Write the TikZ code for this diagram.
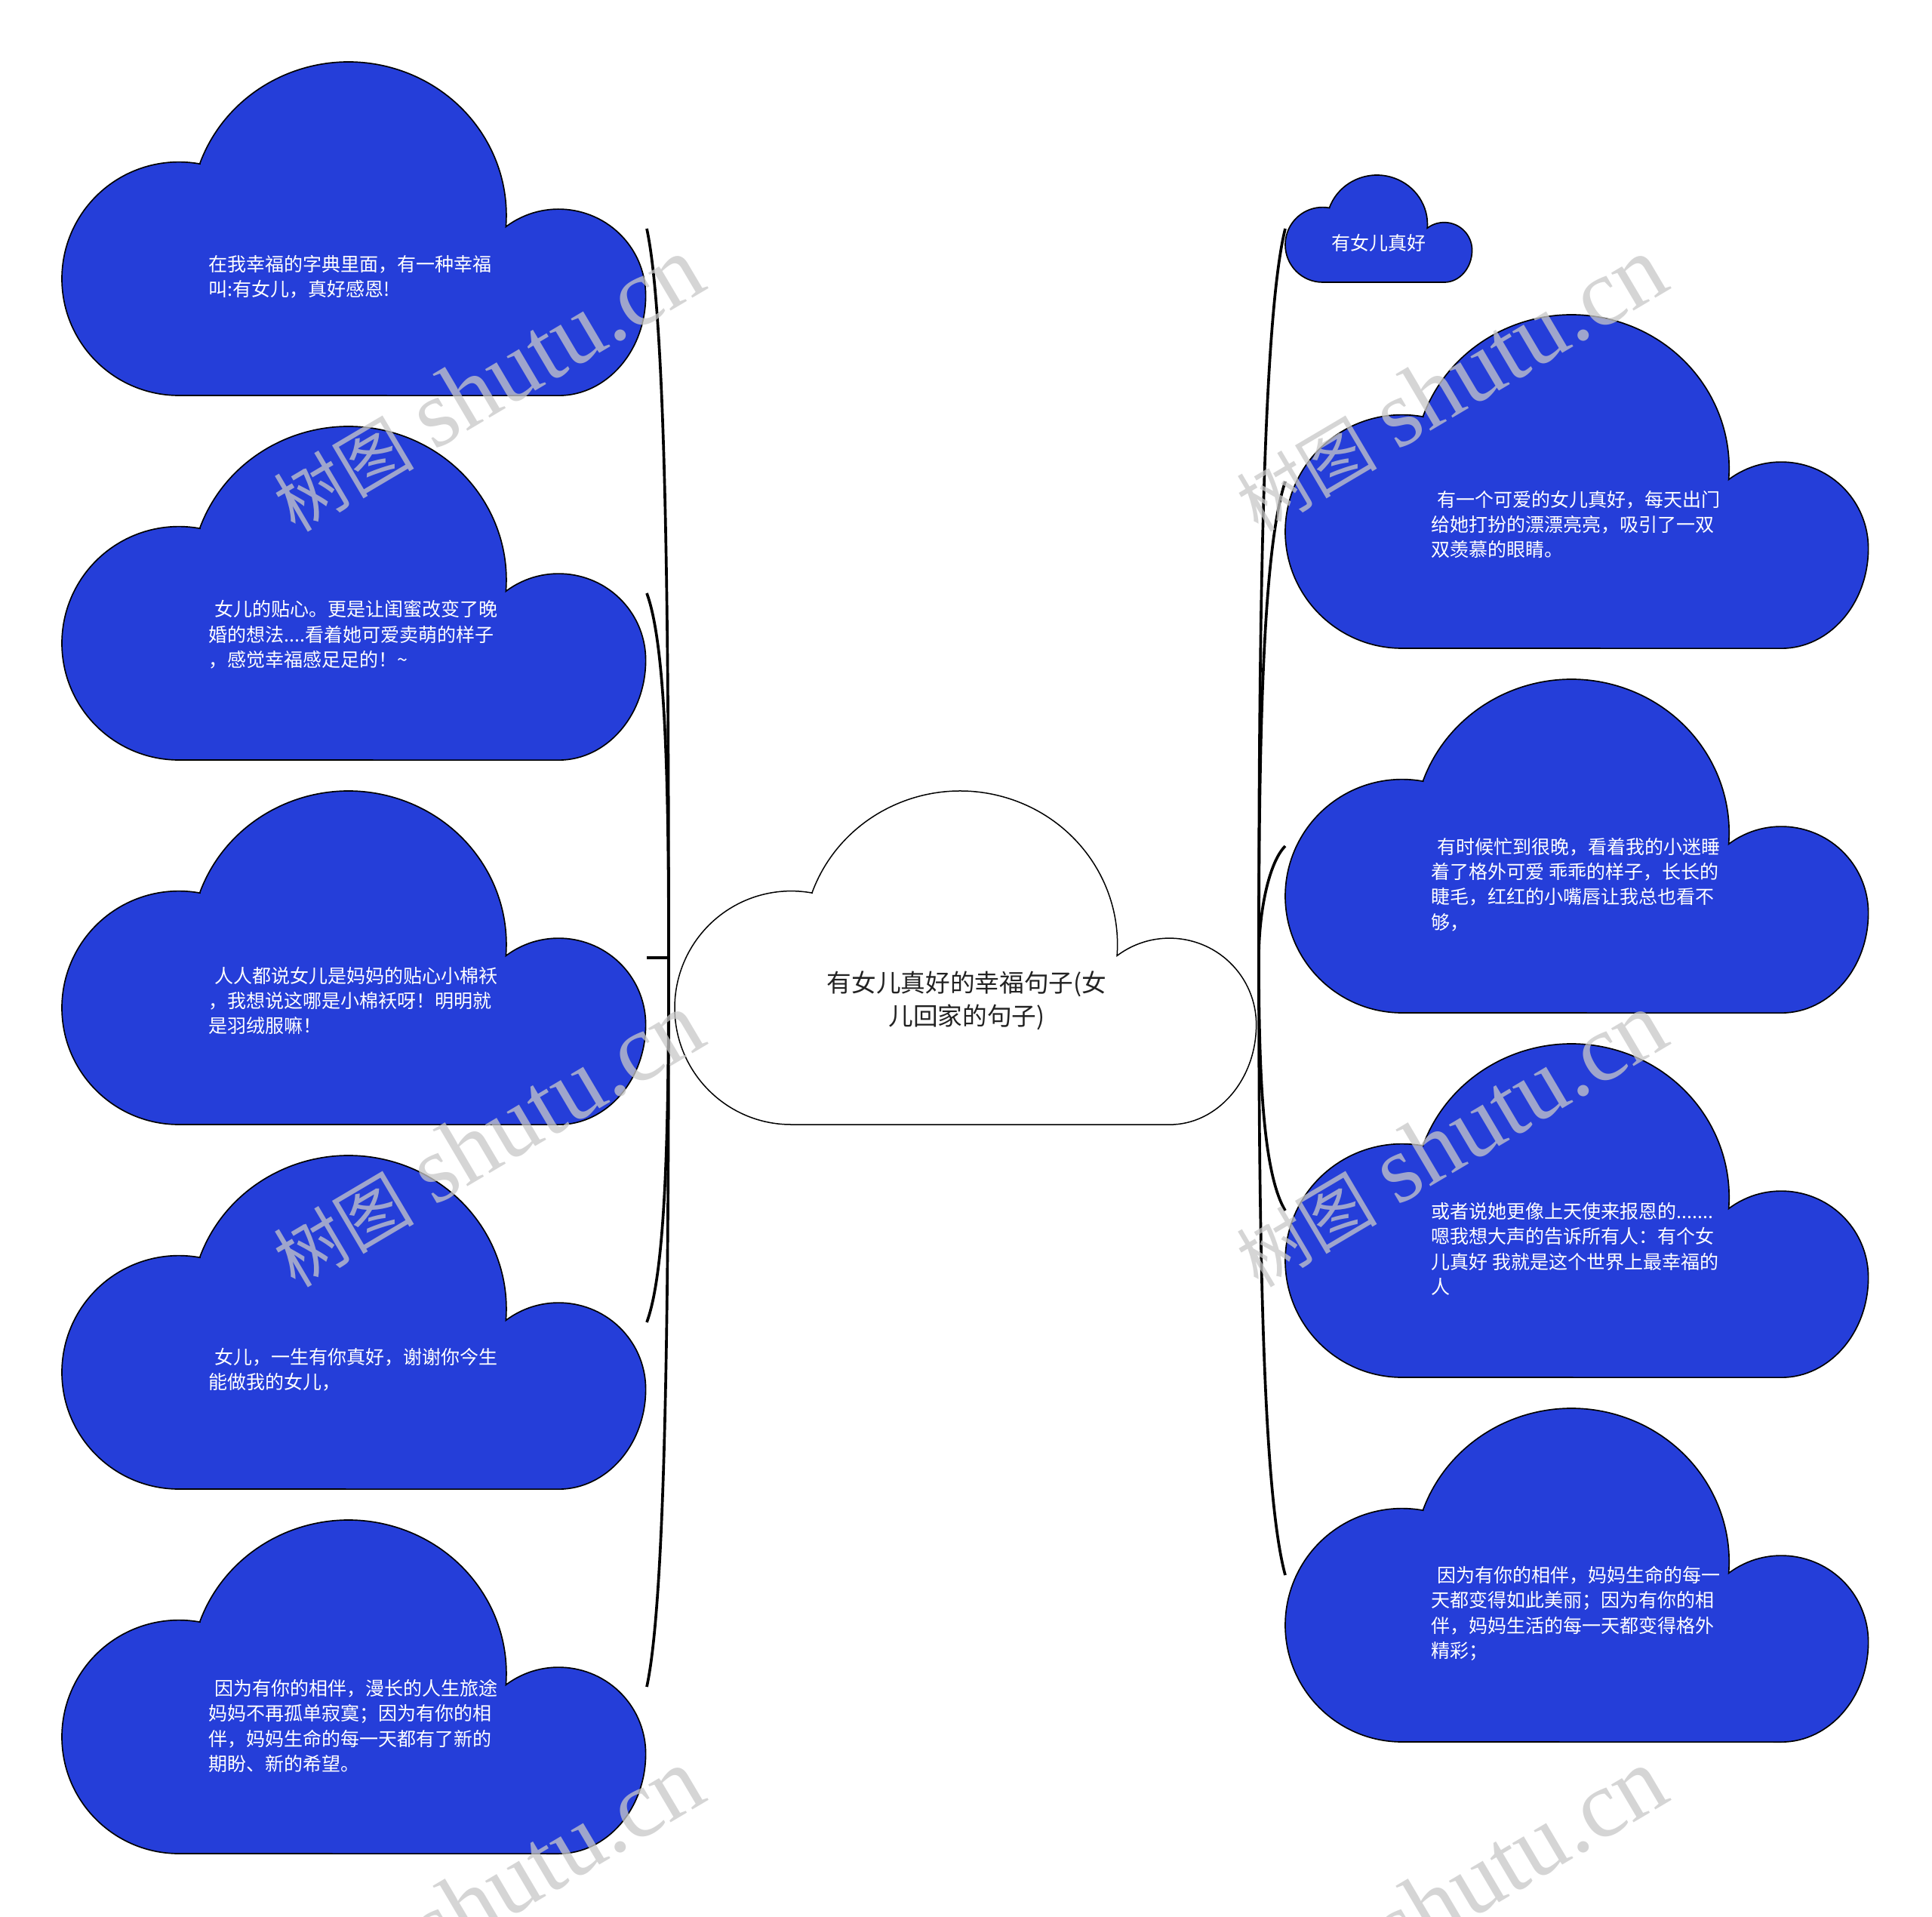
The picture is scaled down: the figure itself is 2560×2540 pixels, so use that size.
\documentclass[tikz,border=0pt]{standalone}
\usepackage{fontspec}
\newfontfamily\cjk{Noto Sans CJK SC}
\newfontfamily\wmlatin{Liberation Serif}
\usetikzlibrary{calc}
\definecolor{cloudblue}{RGB}{37,62,217}
\definecolor{wmgray}{RGB}{200,200,200}
\definecolor{ctextcol}{RGB}{34,34,34}
\tikzset{
  cloudbox/.style={draw=none, rectangle, inner sep=0pt, outer sep=0pt},
  bluecloud/.style={fill=cloudblue, draw=black, line width=0.5pt},
  whitecloud/.style={fill=white, draw=black, line width=0.45pt},
  wtext/.style={text=white, font=\cjk\fontsize{7.5}{10}\selectfont, align=left, inner sep=0pt, anchor=west},
  ctext/.style={text=ctextcol, font=\cjk\fontsize{9.8}{13.2}\selectfont, align=center, inner sep=0pt},
  conn/.style={draw=black, line width=1.1pt},
  wmark/.style={text=wmgray, opacity=0.75, rotate=30.6, inner sep=0pt},
  cloudshape/.pic={
    \path[pic actions] (0.2363,0.6973)
      arc[start angle=160, end angle=-4.24, x radius=0.27, y radius=0.46]
      arc[start angle=127.2, end angle=0, x radius=0.149, y radius=0.259]
      arc[start angle=0, end angle=-90, x radius=0.149, y radius=0.30]
      -- (0.2,0)
      arc[start angle=270, end angle=79.6, x radius=0.2, y radius=0.35]
      -- cycle;
  }
}
% name, left, top, width, height, style
\newcommand\cloudat[6]{%
  \node[cloudbox, anchor=north west, minimum width=#4*0.3pt, minimum height=#5*0.3pt] (#1) at (#2,-#3) {};
  \pic[#6, xscale=#4, yscale=#5] at (#1.south west) {cloudshape};
}
\begin{document}
\begin{tikzpicture}[x=0.3pt, y=0.3pt]
\useasboundingbox (0,0) rectangle (2560,-2540);
\fill[white] (0,0) rectangle (2560,-2540);

% clouds
\cloudat{C}{894}{1048}{772}{442}{whitecloud}
\cloudat{L1}{82}{82}{775}{442}{bluecloud}
\cloudat{L2}{82}{565}{775}{442}{bluecloud}
\cloudat{L3}{82}{1048}{775}{442}{bluecloud}
\cloudat{L4}{82}{1531}{775}{442}{bluecloud}
\cloudat{L5}{82}{2014}{775}{442}{bluecloud}
\cloudat{R0}{1703}{232}{248}{142}{bluecloud}
\cloudat{R1}{1703}{417}{774}{442}{bluecloud}
\cloudat{R2}{1703}{900}{774}{442}{bluecloud}
\cloudat{R3}{1703}{1383}{774}{442}{bluecloud}
\cloudat{R4}{1703}{1866}{774}{442}{bluecloud}

% junctions
\coordinate (JL) at ($(C.west)+(-8,0)$);
\coordinate (JR) at ($(C.east)+(2,0)$);

% connectors left
\draw[conn] (JL) .. controls +(0,435) and +(26,-120) .. (L1.east);
\draw[conn] (JL) .. controls +(0,217) and +(26,-70) .. (L2.east);
\draw[conn] (L3.east) -- (JL);
\draw[conn] (JL) .. controls +(0,-217) and +(26,70) .. (L4.east);
\draw[conn] (JL) .. controls +(0,-435) and +(26,120) .. (L5.east);
% connectors right
\draw[conn] (JR) .. controls +(0,435) and +(-30,-120) .. (R0.west);
\draw[conn] (JR) .. controls +(0,284) and +(-30,-90) .. (R1.west);
\draw[conn] (JR) .. controls +(0,60) and +(-22,-22) .. (R2.west);
\draw[conn] (JR) .. controls +(0,-150) and +(-30,50) .. (R3.west);
\draw[conn] (JR) .. controls +(0,-368) and +(-30,110) .. (R4.west);

% texts
\node[ctext] (Ct) at ($(C.north west)+(387,-278)$) {有女儿真好的幸福句子(女\\儿回家的句子)};
\node[wtext] (L1t) at ($(L1.north west)+(194,-285)$) {在我幸福的字典里面，有一种幸福\\叫:有女儿，真好感恩!};
\node[wtext] (L2t) at ($(L2.north west)+(194,-276)$) {\hspace*{.3em}女儿的贴心。更是让闺蜜改变了晚\\婚的想法....看着她可爱卖萌的样子\\，感觉幸福感足足的！\textasciitilde};
\node[wtext] (L3t) at ($(L3.north west)+(194,-278)$) {\hspace*{.3em}人人都说女儿是妈妈的贴心小棉袄\\，我想说这哪是小棉袄呀！明明就\\是羽绒服嘛！};
\node[wtext] (L4t) at ($(L4.north west)+(194,-284)$) {\hspace*{.3em}女儿，一生有你真好，谢谢你今生\\能做我的女儿，};
\node[wtext] (L5t) at ($(L5.north west)+(194,-273)$) {\hspace*{.3em}因为有你的相伴，漫长的人生旅途\\妈妈不再孤单寂寞；因为有你的相\\伴，妈妈生命的每一天都有了新的\\期盼、新的希望。};
\node[wtext, anchor=center, align=center] (R0t) at ($(R0.north west)+(124,-90)$) {有女儿真好};
\node[wtext] (R1t) at ($(R1.north west)+(193,-278)$) {\hspace*{.3em}有一个可爱的女儿真好，每天出门\\给她打扮的漂漂亮亮，吸引了一双\\双羡慕的眼睛。};
\node[wtext] (R2t) at ($(R2.north west)+(193,-272)$) {\hspace*{.3em}有时候忙到很晚，看着我的小迷睡\\着了格外可爱 乖乖的样子，长长的\\睫毛，红红的小嘴唇让我总也看不\\够，};
\node[wtext] (R3t) at ($(R3.north west)+(193,-272)$) {或者说她更像上天使来报恩的.......\\嗯我想大声的告诉所有人：有个女\\儿真好 我就是这个世界上最幸福的\\人};
\node[wtext] (R4t) at ($(R4.north west)+(193,-272)$) {\hspace*{.3em}因为有你的相伴，妈妈生命的每一\\天都变得如此美丽；因为有你的相\\伴，妈妈生活的每一天都变得格外\\精彩；};

% watermarks
\newcommand\wmtext{{\cjk\fontsize{28}{32}\selectfont 树图}\hspace{8pt}{\wmlatin\fontsize{38}{40}\selectfont shutu.cn}}
\node[wmark] (wm1) at (646,-509) {\wmtext};
\node[wmark] (wm2) at (646,-1510) {\wmtext};
\node[wmark] (wm3) at (646,-2512) {\wmtext};
\node[wmark] (wm4) at (1922,-509) {\wmtext};
\node[wmark] (wm5) at (1922,-1510) {\wmtext};
\node[wmark] (wm6) at (1922,-2512) {\wmtext};
\end{tikzpicture}
\end{document}
